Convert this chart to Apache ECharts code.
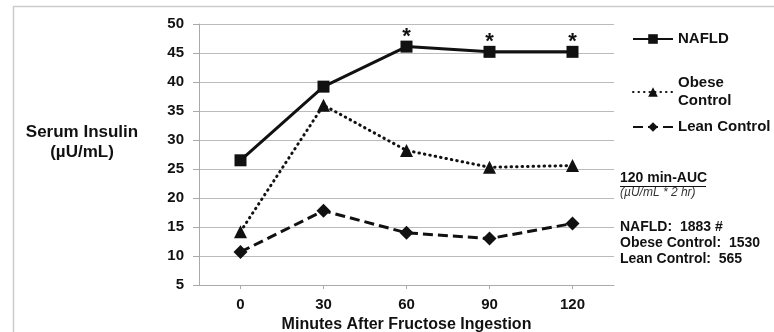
<!DOCTYPE html>
<html>
<head>
<meta charset="utf-8">
<script src="https://cdn.jsdelivr.net/npm/echarts@6/dist/echarts.min.js"></script>
<style>
  html, body { margin: 0; padding: 0; background: #fff; }
  #main { width: 774px; height: 332px; }
</style>
</head>
<body>
<div id="main"></div>
<script>
// 时间点（分钟）
const minutes = ['0', '30', '60', '90', '120']
// 各组血清胰岛素 (µU/mL)
const nafld = [26.5, 39.2, 46.1, 45.2, 45.2]
const obese = [14.2, 36, 28.2, 25.3, 25.6]
const lean = [10.7, 17.8, 14, 13, 15.6]
// 显著性标记
const stars = ['', '', '*', '*', '*']
const yTicks = { min: 5, max: 50, step: 5 }

const font = 'Arial, "Liberation Sans", sans-serif'
const ink = '#111'

const myChart = echarts.init(document.getElementById('main'))

function legendAt (name, top) {
  return {
    data: [name],
    left: 632,
    top: top,
    padding: 0,
    itemWidth: 40,
    itemHeight: 12,
    itemGap: 0,
    selectedMode: false,
    textStyle: { fontFamily: font, fontWeight: 'bold', fontSize: 15, color: ink, lineHeight: 18 }
  }
}

let option = {
  animation: false,
  grid: { left: 199, top: 24, right: 160, bottom: 47, outerBoundsMode: 'none', containLabel: false },
  legend: [
    legendAt('NAFLD', 30),
    legendAt('Obese\nControl', 74),
    legendAt('Lean Control', 118)
  ],
  xAxis: {
    type: 'category',
    data: minutes,
    boundaryGap: true,
    axisLine: { lineStyle: { color: '#aaa', width: 1 } },
    axisTick: { show: true, alignWithLabel: true, length: 4, lineStyle: { color: '#aaa' } },
    axisLabel: { fontFamily: font, fontWeight: 'bold', fontSize: 15, color: ink, margin: 12 },
    name: 'Minutes After Fructose Ingestion',
    nameLocation: 'middle',
    nameGap: 32,
    nameTextStyle: { fontFamily: font, fontWeight: 'bold', fontSize: 16, color: ink }
  },
  yAxis: {
    type: 'value',
    min: yTicks.min,
    max: yTicks.max,
    interval: yTicks.step,
    axisLine: { show: true, lineStyle: { color: '#aaa', width: 1 } },
    axisTick: { show: true, length: 6, lineStyle: { color: '#aaa' } },
    splitLine: { lineStyle: { color: '#bbb', width: 1 } },
    axisLabel: { fontFamily: font, fontWeight: 'bold', fontSize: 15, color: ink, margin: 15 }
  },
  series: [
    {
      name: 'NAFLD',
      type: 'line',
      data: nafld,
      symbol: 'rect',
      symbolSize: 12,
      lineStyle: { color: ink, width: 3, type: 'solid' },
      itemStyle: { color: ink },
      label: {
        show: true,
        position: 'top',
        distance: 0,
        offset: [0, 7],
        formatter: p => stars[p.dataIndex],
        fontFamily: font,
        fontWeight: 'bold',
        fontSize: 22,
        color: ink
      },
      z: 3
    },
    {
      name: 'Obese\nControl',
      type: 'line',
      data: obese,
      symbol: 'triangle',
      symbolSize: 13,
      lineStyle: { color: ink, width: 3, type: [0.5, 5], cap: 'round' },
      itemStyle: { color: ink }
    },
    {
      name: 'Lean Control',
      type: 'line',
      data: lean,
      symbol: 'diamond',
      symbolSize: 14,
      lineStyle: { color: ink, width: 3, type: [10, 5] },
      itemStyle: { color: ink }
    }
  ],
  graphic: {
    elements: [
      // 外框
      {
        type: 'rect',
        shape: { x: 13.5, y: 6.5, width: 800, height: 400 },
        style: { fill: 'none', stroke: '#ccc', lineWidth: 1.5 },
        silent: true
      },
      {
        type: 'text',
        x: 82, y: 122,
        style: {
          text: 'Serum Insulin\n(µU/mL)',
          font: 'bold 17px ' + font,
          fill: ink,
          align: 'center',
          lineHeight: 20
        }
      },
      {
        type: 'text',
        x: 620, y: 171,
        style: { text: '120 min-AUC', font: 'bold 14px ' + font, fill: ink }
      },
      {
        type: 'line',
        shape: { x1: 620, y1: 186.5, x2: 706, y2: 186.5 },
        style: { stroke: ink, lineWidth: 1 }
      },
      {
        type: 'text',
        x: 620, y: 187,
        style: { text: '(µU/mL * 2 hr)', font: 'italic 12px ' + font, fill: '#333' }
      },
      {
        type: 'text',
        x: 620, y: 219,
        style: {
          text: 'NAFLD:  1883 #\nObese Control:  1530\nLean Control:  565',
          font: 'bold 14px ' + font,
          fill: ink,
          lineHeight: 16
        }
      }
    ]
  }
}
myChart.setOption(option)
</script>
</body>
</html>
